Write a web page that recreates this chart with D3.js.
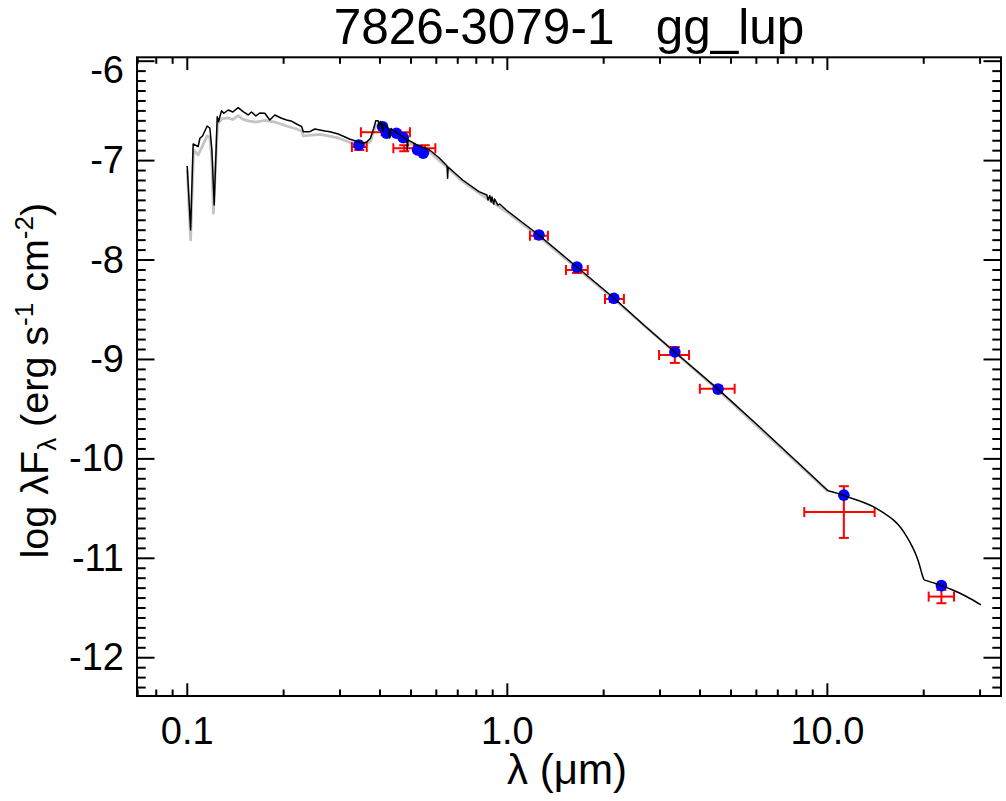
<!DOCTYPE html>
<html><head><meta charset="utf-8">
<script src="https://cdn.jsdelivr.net/npm/d3@7"></script>
<style>
body{margin:0;background:#fff}
svg{display:block}
text{font-family:"Liberation Sans",Arial,Helvetica,sans-serif;fill:#000}
</style>
</head><body>
<svg id="c" width="1006" height="801"></svg>
<script>
// ---------------- data ----------------
const titleText = "7826-3079-1   gg_lup";
const xTickValues = [0.1, 1, 10];
const xTickLabels = ["0.1", "1.0", "10.0"];
const xMinorValues = [0.07,0.08,0.09,0.2,0.3,0.4,0.5,0.6,0.7,0.8,0.9,2,3,4,5,6,7,8,9,20,30];
const yTickValues = [-6, -7, -8, -9, -10, -11, -12];
const yTickLabels = ["-6", "-7", "-8", "-9", "-10", "-11", "-12"];

// model spectrum (black): wavelength (micron) and log lambda F_lambda
const specBlackLam = [0.1003,0.1028,0.1047,0.1085,0.1099,0.1120,0.1158,0.1181,0.1198,0.1218,0.1245,0.1257,0.1284,0.1306,0.1347,0.1393,0.1447,0.1500,0.1555,0.1593,0.1644,0.1691,0.1753,0.1817,0.1884,0.1978,0.2050,0.2116,0.2203,0.2286,0.2313,0.2423,0.2514,0.2605,0.2702,0.2802,0.2973,0.3237,0.3555,0.3650,0.3748,0.3839,0.3896,0.3963,0.3998,0.4027,0.4073,0.4103,0.4133,0.4256,0.4303,0.4351,0.4536,0.4682,0.4877,0.4884,0.4914,0.5237,0.5741,0.6153,0.6507,0.6531,0.6555,0.7277,0.8185,0.8661,0.8740,0.8845,0.8930,0.8985,0.9100,0.9160,0.9376,0.9500,1.000,1.258,1.655,2.16,2.70,3.345,4.57,6.19,8.27,10.08,10.8,11.53,12.7,13.96,15.0,16.13,17.0,17.76,18.5,19.08,19.5,19.79,20.11,21.4,22.85,24.4,26.06,28.1,30.31];
const specBlackLogF = [-7.059,-7.703,-6.838,-6.865,-6.780,-6.757,-6.657,-6.680,-6.898,-7.451,-6.563,-6.613,-6.503,-6.529,-6.496,-6.516,-6.473,-6.513,-6.546,-6.516,-6.556,-6.526,-6.529,-6.596,-6.546,-6.579,-6.596,-6.606,-6.637,-6.664,-6.714,-6.714,-6.687,-6.697,-6.707,-6.714,-6.737,-6.790,-6.831,-6.818,-6.780,-6.680,-6.603,-6.603,-6.677,-6.611,-6.647,-6.717,-6.637,-6.677,-6.777,-6.682,-6.730,-6.752,-6.793,-6.898,-6.796,-6.848,-6.898,-6.979,-7.059,-7.183,-7.069,-7.200,-7.317,-7.351,-7.401,-7.356,-7.421,-7.371,-7.442,-7.391,-7.452,-7.442,-7.507,-7.753,-8.075,-8.387,-8.669,-8.930,-9.303,-9.690,-10.066,-10.325,-10.352,-10.385,-10.430,-10.486,-10.545,-10.619,-10.695,-10.787,-10.890,-10.988,-11.080,-11.155,-11.222,-11.250,-11.280,-11.316,-11.357,-11.412,-11.474];

// second spectrum (grey)
const specGrayLam = [0.1003,0.1028,0.1050,0.1085,0.1120,0.1158,0.1181,0.1198,0.1211,0.1248,0.1287,0.1347,0.1393,0.1447,0.1500,0.1555,0.1644,0.1753,0.1884,0.2050,0.2203,0.2286,0.2313,0.2605,0.2973,0.3237,0.3555,0.3748,0.3896,0.4027,0.4351,0.4877,0.5741,0.7277,0.8185,1.000,1.258,2.16,4.57,10.08];
const specGrayLogF = [-7.099,-7.803,-6.898,-6.948,-6.858,-6.757,-6.777,-6.999,-7.535,-6.637,-6.586,-6.576,-6.592,-6.553,-6.590,-6.606,-6.617,-6.601,-6.617,-6.657,-6.687,-6.707,-6.757,-6.742,-6.777,-6.823,-6.863,-6.813,-6.647,-6.647,-6.707,-6.818,-6.918,-7.215,-7.331,-7.522,-7.768,-8.397,-9.313,-10.333];

// observed photometry (red): wavelength, band edges, log flux, error
const obsLam   = [0.346, 0.418, 0.478, 0.554, 1.26, 1.656, 2.16, 3.35, 4.57, 11.3, 22.8];
const obsLamLo = [0.328, 0.350, 0.442, 0.513, 1.181, 1.53, 2.026, 2.99, 4.01, 8.5, 20.8];
const obsLamHi = [0.365, 0.498, 0.516, 0.598, 1.344, 1.79, 2.322, 3.71, 5.15, 14.1, 24.96];
const obsLogF  = [-6.868, -6.72, -6.88, -6.88, -7.76, -8.105, -8.397, -8.96, -9.30, -10.54, -11.39];
const obsErr   = [0.03, 0.03, 0.03, 0.03, 0.03, 0.03, 0.03, 0.08, 0.03, 0.26, 0.067];

// model synthetic photometry (blue)
const modLam  = [0.345, 0.409, 0.421, 0.452, 0.4746, 0.526, 0.548, 1.26, 1.656, 2.16, 3.35, 4.57, 11.3, 22.8];
const modLogF = [-6.848, -6.664, -6.73, -6.73, -6.774, -6.898, -6.931, -7.753, -8.076, -8.39, -8.93, -9.303, -10.37, -11.28];

// ---------------- drawing ----------------
const L = 137, R = 1001, T = 57.3, B = 696;
const svg = d3.select("#c");
const x = d3.scaleLog().domain([0.0699, 35.0]).range([L, R]);
const y = d3.scaleLinear().domain([-12.39, -5.966]).range([B, T]);

const FS = 38;
const clipId = "pc";
svg.append("clipPath").attr("id", clipId).append("rect")
  .attr("x", L).attr("y", T).attr("width", R - L).attr("height", B - T);

const line = d3.line().x(d => x(d[0])).y(d => y(d[1]));
const smooth = d3.line().x(d => x(d[0])).y(d => y(d[1])).curve(d3.curveMonotoneX);
const plot = svg.append("g").attr("clip-path", `url(#${clipId})`);

plot.append("path").datum(d3.zip(specGrayLam, specGrayLogF))
  .attr("d", line).attr("fill", "none").attr("stroke", "#c4c4c4").attr("stroke-width", 2.8)
  .attr("stroke-linejoin", "round");

// error bars
const obs = obsLam.map((l, i) => ({l, lo: obsLamLo[i], hi: obsLamHi[i], f: obsLogF[i], e: obsErr[i]}));
const eb = plot.append("g").attr("stroke", "#ff0000").attr("stroke-width", 2).attr("fill", "none");
const cap = 5;
obs.forEach(d => {
  const cx = x(d.l), cy = y(d.f);
  eb.append("line").attr("x1", x(d.lo)).attr("x2", x(d.hi)).attr("y1", cy).attr("y2", cy);
  eb.append("line").attr("x1", x(d.lo)).attr("x2", x(d.lo)).attr("y1", cy - cap).attr("y2", cy + cap);
  eb.append("line").attr("x1", x(d.hi)).attr("x2", x(d.hi)).attr("y1", cy - cap).attr("y2", cy + cap);
  const y1 = y(d.f + d.e), y2 = y(d.f - d.e);
  eb.append("line").attr("x1", cx).attr("x2", cx).attr("y1", y1).attr("y2", y2);
  eb.append("line").attr("x1", cx - cap).attr("x2", cx + cap).attr("y1", y1).attr("y2", y1);
  eb.append("line").attr("x1", cx - cap).attr("x2", cx + cap).attr("y1", y2).attr("y2", y2);
});

plot.append("g").selectAll("circle").data(d3.zip(modLam, modLogF)).join("circle")
  .attr("cx", d => x(d[0])).attr("cy", d => y(d[1])).attr("r", 5.8).attr("fill", "#0000ff");

// black spectrum: sharp segments up to the 10 micron kink, smooth beyond
const blackPts = d3.zip(specBlackLam, specBlackLogF);
const kink = specBlackLam.indexOf(10.08);
plot.append("path").datum(blackPts.slice(0, kink + 1))
  .attr("d", line).attr("fill", "none").attr("stroke", "#000").attr("stroke-width", 1.5)
  .attr("stroke-linejoin", "round");
const kink2 = specBlackLam.indexOf(20.11);
plot.append("path").datum(blackPts.slice(kink, kink2 + 1))
  .attr("d", smooth).attr("fill", "none").attr("stroke", "#000").attr("stroke-width", 1.5);
plot.append("path").datum(blackPts.slice(kink2))
  .attr("d", smooth).attr("fill", "none").attr("stroke", "#000").attr("stroke-width", 1.5);

// axes
const xMajLen = 12.7, xMinLen = 6.5, yMajLen = 17.5, yMinLen = 8.7;
function styleAxis(g) {
  g.select(".domain").remove();
  g.selectAll(".tick line").attr("stroke", "#000").attr("stroke-width", 2);
  g.attr("font-size", FS).attr("font-family", null);
}
svg.append("g").attr("transform", `translate(0,${B})`)
  .call(d3.axisBottom(x).tickValues(xTickValues).tickSize(-xMajLen).tickSizeOuter(0).tickPadding(21)
        .tickFormat((d, i) => xTickLabels[i]))
  .call(styleAxis);
svg.append("g").attr("transform", `translate(0,${B})`)
  .call(d3.axisBottom(x).tickValues(xMinorValues).tickSize(-xMinLen).tickSizeOuter(0).tickFormat(""))
  .call(styleAxis);
svg.append("g").attr("transform", `translate(0,${T})`)
  .call(d3.axisTop(x).tickValues(xTickValues).tickSize(-xMajLen).tickSizeOuter(0).tickFormat(""))
  .call(styleAxis);
svg.append("g").attr("transform", `translate(0,${T})`)
  .call(d3.axisTop(x).tickValues(xMinorValues).tickSize(-xMinLen).tickSizeOuter(0).tickFormat(""))
  .call(styleAxis);

const yMinor = d3.range(-123, -59).map(v => v / 10).filter(v => Math.abs(v - Math.round(v)) > 1e-6);
const yl = svg.append("g").attr("transform", `translate(${L},0)`)
  .call(d3.axisLeft(y).tickValues(yTickValues).tickSize(-yMajLen).tickSizeOuter(0).tickPadding(13)
        .tickFormat((d, i) => yTickLabels[i]))
  .call(styleAxis);
yl.selectAll(".tick text").attr("dy", (d, i) => i === 0 ? "0.58em" : "0.33em");
svg.append("g").attr("transform", `translate(${L},0)`)
  .call(d3.axisLeft(y).tickValues(yMinor).tickSize(-yMinLen).tickSizeOuter(0).tickFormat(""))
  .call(styleAxis);
svg.append("g").attr("transform", `translate(${R},0)`)
  .call(d3.axisRight(y).tickValues(yTickValues).tickSize(-yMajLen).tickSizeOuter(0).tickFormat(""))
  .call(styleAxis);
svg.append("g").attr("transform", `translate(${R},0)`)
  .call(d3.axisRight(y).tickValues(yMinor).tickSize(-yMinLen).tickSizeOuter(0).tickFormat(""))
  .call(styleAxis);

svg.append("rect").attr("x", L).attr("y", T).attr("width", R - L).attr("height", B - T)
  .attr("fill", "none").attr("stroke", "#000").attr("stroke-width", 2);

// title
svg.append("text").attr("x", (L + R) / 2).attr("y", 44).attr("text-anchor", "middle")
  .attr("font-size", 49.5).style("white-space", "pre").text(titleText);

// x label
svg.append("text").attr("x", (L + R) / 2 - 2).attr("y", 784).attr("text-anchor", "middle")
  .attr("font-size", 42).text("λ (μm)");

// y label
const ylab = svg.append("text").attr("transform", `translate(48,${(T + B) / 2 + 4}) rotate(-90)`)
  .attr("text-anchor", "middle").attr("font-size", 39.5);
ylab.append("tspan").text("log λF");
ylab.append("tspan").attr("font-size", 26).attr("dy", 8).text("λ");
ylab.append("tspan").attr("dy", -8).text(" (erg s");
ylab.append("tspan").attr("font-size", 26).attr("dy", -15).text("-1");
ylab.append("tspan").attr("dy", 15).text(" cm");
ylab.append("tspan").attr("font-size", 26).attr("dy", -15).text("-2");
ylab.append("tspan").attr("dy", 15).text(")");
</script>
</body></html>
